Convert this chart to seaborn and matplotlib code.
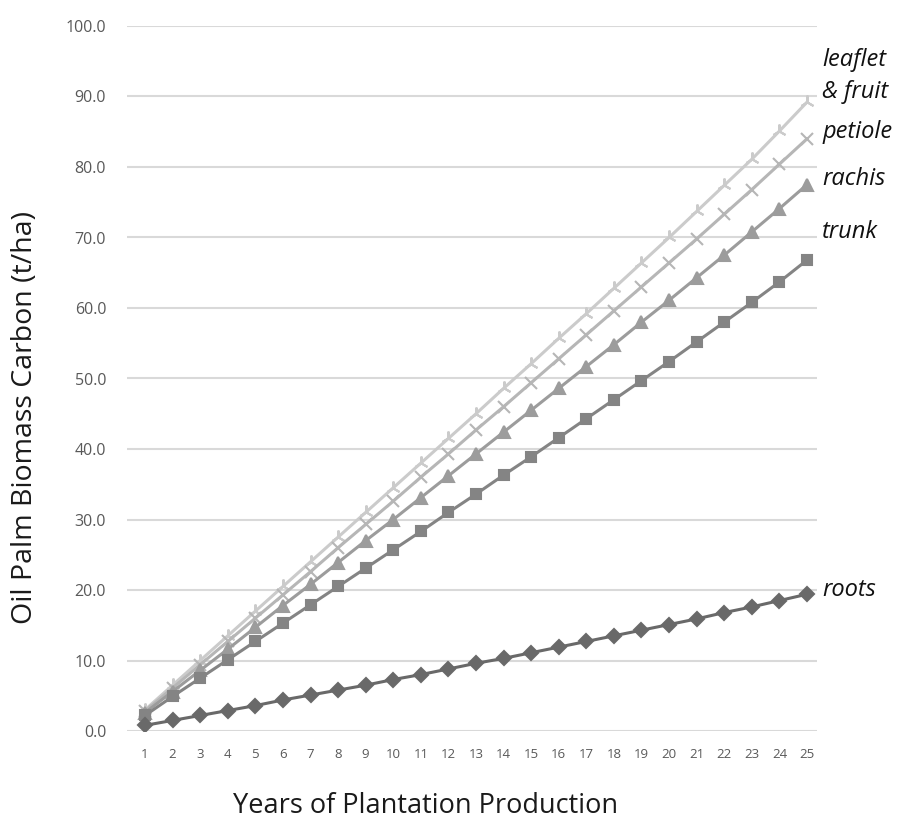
import matplotlib
matplotlib.use("Agg")
import matplotlib.pyplot as plt
import seaborn as sns
import pandas as pd

years = list(range(1, 26))
roots = [0.8, 1.5, 2.2, 2.9, 3.6, 4.4, 5.1, 5.8, 6.5, 7.3, 8.0, 8.8, 9.6, 10.3, 11.1,
         11.9, 12.7, 13.5, 14.3, 15.1, 15.9, 16.8, 17.6, 18.5, 19.4]
trunk = [2.2, 4.9, 7.5, 10.1, 12.7, 15.3, 17.9, 20.5, 23.1, 25.7, 28.3, 31.0, 33.6, 36.3, 38.9,
         41.6, 44.3, 47.0, 49.7, 52.4, 55.2, 58.0, 60.8, 63.7, 66.8]
rachis = [2.6, 5.6, 8.6, 11.6, 14.7, 17.8, 20.8, 23.9, 27.0, 30.0, 33.1, 36.2, 39.3, 42.4, 45.5,
          48.6, 51.7, 54.8, 58.0, 61.1, 64.3, 67.5, 70.8, 74.1, 77.5]
petiole = [2.8, 6.1, 9.4, 12.7, 16.0, 19.3, 22.6, 26.0, 29.3, 32.6, 36.0, 39.3, 42.7, 46.0, 49.4,
           52.8, 56.2, 59.6, 63.0, 66.4, 69.8, 73.3, 76.8, 80.4, 84.0]
leaflet = [3.0, 6.5, 10.0, 13.5, 17.0, 20.5, 24.0, 27.5, 31.0, 34.5, 38.0, 41.5, 45.0, 48.6, 52.1,
           55.7, 59.2, 62.8, 66.4, 70.0, 73.7, 77.4, 81.1, 85.1, 89.2]

series_names = ["leaflet\n& fruit", "petiole", "rachis", "trunk", "roots"]
series_values = [leaflet, petiole, rachis, trunk, roots]
y_ticks = [0, 10, 20, 30, 40, 50, 60, 70, 80, 90, 100]

colors = ["#cbcbcb", "#b6b6b6", "#9c9c9c", "#848484", "#696969"]
markers = [(3, 2, 0), "x", "^", "s", "D"]
msizes = [10, 8, 8, 7, 7]
# label placement (layout): vertical offset in points from each series' last point
label_dy_pts = [+19, +5, +4, +20, +3]

sns.set_theme(style="white")
plt.rcParams['font.family'] = ['Open Sans', 'DejaVu Sans']

fig = plt.figure(figsize=(9.06, 8.21), dpi=100)
ax = fig.add_axes([127/906, 1-731/821, 690/906, 705/821])

for name, vals, c, m, ms in zip(series_names, series_values, colors, markers, msizes):
    df = pd.DataFrame({"year": years, "value": vals})
    sns.lineplot(data=df, x="year", y="value", ax=ax, color=c, marker=m,
                 markersize=ms, markeredgecolor=c, markeredgewidth=1.5,
                 linewidth=2.2, zorder=3)

for name, vals, dy in zip(series_names, series_values, label_dy_pts):
    ax.annotate(name, xy=(years[-1], vals[-1]), xytext=(11, dy),
                textcoords="offset points", ha="left", va="center",
                fontsize=17, style="italic", color="#111111",
                linespacing=1.45, annotation_clip=False)

ax.set_xlim(1 - 18/27.58, 25 + 10/27.58)
ax.set_ylim(0, 100)
ax.set_yticks(y_ticks)
ax.set_yticklabels([f"{v:.1f}" for v in y_ticks])
ax.set_xticks(years)
ax.set_xticklabels([str(y) for y in years])
ax.grid(axis="y", color="#d9d9d9", linewidth=1.5, zorder=0)
ax.grid(axis="x", visible=False)
for s in ax.spines.values():
    s.set_visible(False)
ax.tick_params(axis="y", labelsize=11.5, labelcolor="#595959", length=0, pad=15)
ax.tick_params(axis="x", labelsize=9.5, labelcolor="#595959", length=0, pad=12)
ax.set_xlabel("Years of Plantation Production", fontsize=19.5, color="#1a1a1a")
ax.set_ylabel("Oil Palm Biomass Carbon (t/ha)", fontsize=20.5, color="#1a1a1a")
ax.xaxis.label.set_va("center")
ax.yaxis.label.set_va("center")
ax.xaxis.set_label_coords(0.432, -0.106)
ax.yaxis.set_label_coords(-0.148, 0.444)

fig.savefig("out.png", dpi=100, facecolor="white")
